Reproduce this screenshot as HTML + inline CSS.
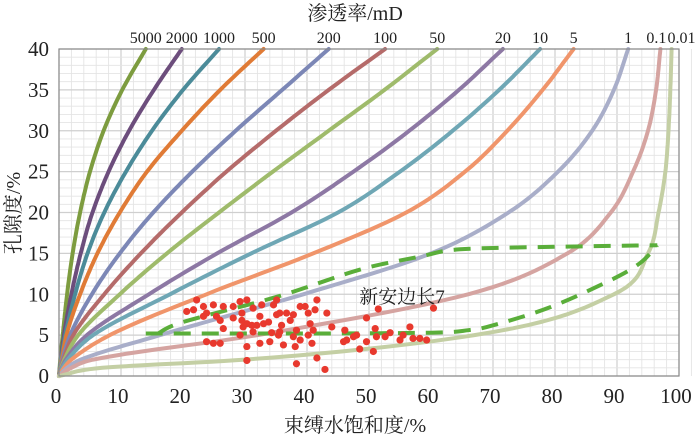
<!DOCTYPE html>
<html><head><meta charset="utf-8">
<style>
html,body{margin:0;padding:0;background:#fff;}
text{font-family:"Liberation Serif","Noto Serif CJK SC","Noto Sans CJK SC",serif !important;fill:#222;}
</style></head>
<body>
<svg id="chart" width="700" height="438" viewBox="0 0 700 438" xmlns="http://www.w3.org/2000/svg" font-family="Liberation Serif, Noto Serif CJK SC, serif">
  <g id="grid"></g>
  <g id="curves"></g>
  <g id="envelope"></g>
  <g id="dots"></g>
  <rect x="59" y="49" width="620" height="327" fill="none" stroke="#8a8a8a" stroke-width="1.2"/>
  <g id="xticks"></g>
  <g id="yticks"></g>
  <g id="topticks"></g>
  <text x="355" y="20" font-size="20" text-anchor="middle">渗透率/mD</text>
  <text x="355" y="432" font-size="20" text-anchor="middle">束缚水饱和度/%</text>
  <text transform="translate(20,213) rotate(-90)" font-size="20" text-anchor="middle">孔隙度/%</text>
  <text x="402" y="303" font-size="19" text-anchor="middle">新安边长7</text>
</svg>
<script>
const permLabels = ["5000","2000","1000","500","200","100","50","20","10","5","1","0.1","0.01"];
const porosityLevels = [0,1,2,5,10,15,20,25,30,35,40];
const c5000 = [0,0.1,0.2,0.6,1.3,2.2,3.4,5.0,7.2,10.2,14];
const c2000 = [0,0.15,0.3,0.8,2,3.5,5.4,8.0,11.3,15.3,19.8];
const c1000 = [0,0.15,0.35,1,2.6,4.6,7.3,10.8,15,20,25.8];
const c500 = [0,0.2,0.45,1.2,3.4,6.2,9.8,14.2,19.8,26,33];
const c200 = [0,0.25,0.55,1.8,5.3,9.8,15.2,21.5,28.5,36,43.5];
const c100 = [0,0.3,0.7,2.3,7.3,13.2,19.8,27,35,43.5,52.6];
const c50 = [0,0.35,0.85,3.1,9.8,17.4,25.8,34.5,43.5,52.5,61];
const c20 = [0,0.45,1.1,4.5,14.5,25.5,37.5,47.5,56.5,64.5,71.6];
const c10 = [0,0.55,1.4,5.5,17.9,31,45,55,63.5,71,77.6];
const c5 = [0,0.8,2,8.2,23.8,41,56,65.5,72.3,78,83];
const c1 = [0,1.3,3.5,16.3,39.4,60,72.5,80.5,86,89.5,91.8];
const c01 = [0,2,5.5,32,66,82,89,92.6,95,96.3,97];
const c001 = [0,7,30,67,89.5,95,96.7,97.8,98.3,98.6,98.8];
const curveColors = ["#7d9c3f","#6c4d7c","#4b8b99","#e07b36","#7c87b6","#b56b6a","#9fbb6b","#8d78a4","#6fa7b5","#f0956b","#a9aec9","#d5a4a1","#c4cfa4"];
const envUpperX = [16,20,35.2,48.5,58.2,64.7,80,96.5];
const envUpperY = [5.2,6.6,9.7,13,14.6,15.5,15.8,16];
const envLowerX = [14,40,60,66,70,79.2,88.9,93.7,96.5];
const envLowerY = [5.2,5.2,5.3,5.6,6.2,8.4,11.7,13.8,16];
const ptX = [20.6,22.2,23.3,23.8,24.9,25.4,26.5,26,23.3,29.2,30.3,29.5,28.1,31.3,32.4,33,31.1,29.7,34.6,35.1,35.9,36.7,37.8,38.9,40.2,41.6,41.3,43.2,40.5,41,40.2,38.9,37.8,35.6,34.3,32.4,34,31.3,29.2,26.5,23.8,24.9,26,30.3,36.2,38.1,40.8,30.3,38.3,41.6,42.9,44,46.1,46.4,48,49.6,51.5,51,48.5,50.7,51.2,52.6,53.4,55,56.6,57.1,58.2,59.3,60.4,55.5,49.6,47.5,45.9,32.7,37.3,39.7,35.6,28.1,21.7,33.8,31.9,35.1,38.3,35.4,30.3,29.5];
const ptY = [7.9,9.3,8.5,7.7,8.7,7.3,8.5,6.8,7.3,9.1,9.3,7.7,7.1,8.3,7.3,6.4,6.2,6,8.7,7.5,6.2,7.7,7.5,8.5,7.7,9.3,8.1,7.7,6.4,5.6,5,4.4,4.8,5.4,5.3,4,4.2,5.4,5,5.8,4.2,4,4,3.6,3.8,3.6,4,1.9,1.5,2.2,0.8,6,5.6,4.4,5,7.1,8.2,5.8,3.3,3,4.8,4.8,5.3,4.4,6,4.6,4.6,4.4,8.3,5,4.2,4.8,4.2,8.7,6.8,8.5,7.7,8.5,8.1,6.6,6.2,9.3,5.6,5,6.4,6.8];
const xTicks = [0,10,20,30,40,50,60,70,80,90,100];
const yTicks = [0,5,10,15,20,25,30,35,40];

const NS = "http://www.w3.org/2000/svg";
const X0 = 59, XS = 6.2, Y0 = 376, YS = 8.175;
function sx(u){ return X0 + u*XS; }
function sy(p){ return Y0 - p*YS; }
function mk(tag, attrs, parent){ const e=document.createElementNS(NS,tag); for(const k in attrs) e.setAttribute(k,attrs[k]); parent.appendChild(e); return e; }
function monoPath(ps, us){
  const n=ps.length, d=[], m=[];
  for(let i=0;i<n-1;i++) d.push((us[i+1]-us[i])/(ps[i+1]-ps[i]));
  m[0]=d[0]; m[n-1]=d[n-2];
  for(let i=1;i<n-1;i++){ m[i] = (d[i-1]*d[i]<=0)?0:(d[i-1]+d[i])/2; }
  for(let i=0;i<n-1;i++){
    if(d[i]===0){m[i]=0;m[i+1]=0;continue;}
    const a=m[i]/d[i], b=m[i+1]/d[i], s=a*a+b*b;
    if(s>9){const t=3/Math.sqrt(s); m[i]=t*a*d[i]; m[i+1]=t*b*d[i];}
  }
  let path="";
  for(let i=0;i<n-1;i++){
    const h=ps[i+1]-ps[i];
    for(let k=0;k<=12;k++){
      if(i>0&&k===0) continue;
      const t=k/12, t2=t*t, t3=t2*t;
      const u=(2*t3-3*t2+1)*us[i]+(t3-2*t2+t)*h*m[i]+(-2*t3+3*t2)*us[i+1]+(t3-t2)*h*m[i+1];
      const p=ps[i]+t*h;
      path += (path?" L":"M")+sx(u).toFixed(1)+","+sy(p).toFixed(1);
    }
  }
  return path;
}
function smoothPath(pts){
  let d = "M"+pts[0][0].toFixed(1)+","+pts[0][1].toFixed(1);
  for(let i=0;i<pts.length-1;i++){
    const p0=pts[Math.max(0,i-1)], p1=pts[i], p2=pts[i+1], p3=pts[Math.min(pts.length-1,i+2)];
    const c1=[p1[0]+(p2[0]-p0[0])/6, p1[1]+(p2[1]-p0[1])/6];
    const c2=[p2[0]-(p3[0]-p1[0])/6, p2[1]-(p3[1]-p1[1])/6];
    d+=" C"+c1[0].toFixed(1)+","+c1[1].toFixed(1)+" "+c2[0].toFixed(1)+","+c2[1].toFixed(1)+" "+p2[0].toFixed(1)+","+p2[1].toFixed(1);
  }
  return d;
}
const grid = document.getElementById("grid");
for(let u=0; u<=102; u+=2){
  const major = u%10===0;
  const l = mk("line",{x1:sx(u),x2:sx(u),y1:49,y2:376,stroke:major?"#cfcfcf":"#e4e4e4","stroke-width":major?1.2:0.9},grid);
  
  
}
for(let p=0; p<=40; p+=1){
  const major = p%5===0;
  const l = mk("line",{x1:59,x2:679,y1:sy(p),y2:sy(p),stroke:major?"#cfcfcf":"#e4e4e4","stroke-width":major?1.2:0.9},grid);
  
  
}
const curveData = [c5000,c2000,c1000,c500,c200,c100,c50,c20,c10,c5,c1,c01,c001];
const cg = document.getElementById("curves");
const tg = document.getElementById("topticks");
curveData.forEach((arr,i)=>{
  const path = mk("path",{d:monoPath(porosityLevels,arr),fill:"none",stroke:curveColors[i],"stroke-width":4,"stroke-linecap":"round","stroke-linejoin":"round"},cg);
  
  
  let lx = sx(arr[arr.length-1]);
  if(permLabels[i]==="0.1") lx -= 4;
  if(permLabels[i]==="0.01") lx += 10;
  const t = mk("text",{x:lx,y:43,"font-size":16,"text-anchor":"middle"},tg);
  t.textContent = permLabels[i];
  
  
});
const eg = document.getElementById("envelope");
const up = envUpperX.map((u,i)=>[sx(u),sy(envUpperY[i])]);
const lo = envLowerX.map((u,i)=>[sx(u),sy(envLowerY[i])]);
const e1 = mk("path",{d:smoothPath(up),fill:"none",stroke:"#5aae3a","stroke-width":4,"stroke-dasharray":"17,11"},eg);


const e2 = mk("path",{d:smoothPath(lo),fill:"none",stroke:"#5aae3a","stroke-width":4,"stroke-dasharray":"17,11"},eg);


const dg = document.getElementById("dots");
ptX.forEach((u,i)=>{
  const c = mk("circle",{cx:sx(u),cy:sy(ptY[i]),r:3.6,fill:"#e8392e"},dg);
  
  
});
const xg = document.getElementById("xticks");
xTicks.forEach(v=>{
  const t = mk("text",{x:sx(v)-3,y:403,"font-size":21,"text-anchor":"middle"},xg);
  t.textContent = v;
  
  
});
const yg = document.getElementById("yticks");
yTicks.forEach(v=>{
  const t = mk("text",{x:49,y:sy(v)+7,"font-size":21,"text-anchor":"end"},yg);
  t.textContent = v;
  
  
});
</script>
</body></html>
